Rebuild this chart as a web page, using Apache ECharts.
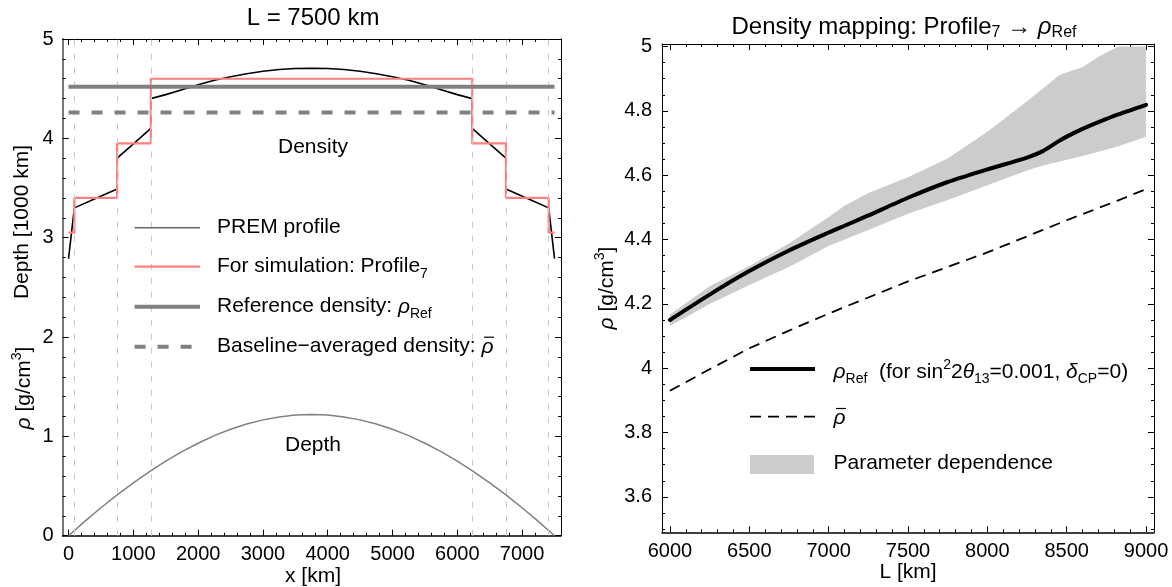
<!DOCTYPE html>
<html><head><meta charset="utf-8">
<script src="https://cdn.jsdelivr.net/npm/echarts@6/dist/echarts.min.js"></script>
<style>html,body{margin:0;padding:0;background:#fff}#c{width:1172px;height:587px}</style>
</head><body><div id="c"></div>
<script>
// ================= LEFT PANEL DATA (L = 7500 km) =================
const premX   = [0, 90, 400, 750, 750, 1010, 1270, 1270, 1500, 1750, 2000, 2250, 2500, 2750, 3000, 3250, 3500, 3750, 4000, 4250, 4500, 4750, 5000, 5250, 5500, 5750, 6000, 6230, 6230, 6490, 6750, 6750, 7100, 7410, 7500];
const premRho = [2.79, 3.30, 3.39, 3.49, 3.80, 3.95, 4.10, 4.40, 4.44, 4.49, 4.54, 4.585, 4.62, 4.65, 4.675, 4.693, 4.703, 4.706, 4.703, 4.693, 4.675, 4.65, 4.62, 4.585, 4.54, 4.49, 4.44, 4.40, 4.10, 3.95, 3.80, 3.49, 3.39, 3.30, 2.79];
const profileEdges = [0, 90, 750, 1270, 6230, 6750, 7410, 7500];
const profileRho   = [3.05, 3.40, 3.95, 4.60, 3.95, 3.40, 3.05];
const layerBounds  = [90, 750, 1270, 6230, 6750, 7410];
const depthX  = [0, 250, 500, 750, 1000, 1250, 1500, 1750, 2000, 2250, 2500, 2750, 3000, 3250, 3500, 3750, 4000, 4250, 4500, 4750, 5000, 5250, 5500, 5750, 6000, 6250, 6500, 6750, 7000, 7250, 7500];
const depthKm = [0, 0.144, 0.281, 0.411, 0.532, 0.646, 0.751, 0.846, 0.931, 1.007, 1.071, 1.124, 1.166, 1.196, 1.215, 1.221, 1.215, 1.196, 1.166, 1.124, 1.071, 1.007, 0.931, 0.846, 0.751, 0.646, 0.532, 0.411, 0.281, 0.144, 0];
const rhoRefLeft = 4.52;
const rhoBarLeft = 4.26;
const leftXTicks = [0, 1000, 2000, 3000, 4000, 5000, 6000, 7000];
const leftYTicks = [0, 1, 2, 3, 4, 5];

// ================= RIGHT PANEL DATA (density mapping) =================
const Lkm       = [6000, 6250, 6500, 6750, 7000, 7100, 7250, 7500, 7750, 8000, 8250, 8350, 8450, 8500, 8600, 8700, 8825, 9000];
const rhoRef    = [4.150, 4.229, 4.302, 4.366, 4.422, 4.443, 4.475, 4.530, 4.579, 4.618, 4.655, 4.675, 4.706, 4.720, 4.744, 4.765, 4.789, 4.819];
const rhoBar    = [3.930, 3.997, 4.062, 4.117, 4.170, 4.190, 4.220, 4.270, 4.315, 4.360, 4.410, 4.430, 4.450, 4.460, 4.479, 4.498, 4.522, 4.557];
const bandLow   = [4.131, 4.200, 4.259, 4.315, 4.380, 4.400, 4.430, 4.480, 4.523, 4.569, 4.615, 4.630, 4.642, 4.648, 4.660, 4.673, 4.690, 4.720];
const bandHigh  = [4.167, 4.255, 4.318, 4.388, 4.470, 4.505, 4.545, 4.594, 4.652, 4.735, 4.830, 4.870, 4.910, 4.920, 4.936, 4.968, 5.000, 5.000];
const rightXTicks = [6000, 6500, 7000, 7500, 8000, 8500, 9000];
const rightYTicks = [3.6, 3.8, 4, 4.2, 4.4, 4.6, 4.8, 5];

// ================= helpers =================
const FF = '"Liberation Sans", Arial, Helvetica, sans-serif';
const zip = (xs, ys) => xs.map((x, i) => [x, ys[i]]);
function minorTicks(from, to, step, majors) {
  const out = [];
  const n = Math.round((to - from) / step);
  for (let k = 0; k <= n; k++) {
    const v = Math.round((from + k * step) * 1000) / 1000;
    if (!majors.some(m => Math.abs(m - v) < 1e-9)) out.push(v);
  }
  return out;
}
function ax(grid, pos, min, max, ticks, len, o) {
  o = o || {};
  return {
    type: 'value', gridIndex: grid, position: pos, min: min, max: max,
    axisLine: { show: !!o.line, onZero: false, lineStyle: { color: o.lineColor || '#000', width: o.lineWidth || 1 } },
    axisTick: { show: true, inside: true, length: len, customValues: ticks, lineStyle: { color: '#000', width: 1 } },
    axisLabel: o.labels ? { show: true, customValues: ticks, color: '#000', fontFamily: FF, fontSize: 20, margin: o.margin || 8,
      formatter: v => String(v) } : { show: false },
    splitLine: { show: false }, minorTick: { show: false }, minorSplitLine: { show: false }
  };
}
function rich(size) {
  const s = Math.round(size * 0.68);
  return {
    n:   { font: size + 'px ' + FF, lineHeight: 28, fill: '#000' },
    i:   { font: 'italic ' + size + 'px ' + FF, lineHeight: 28, fill: '#000' },
    sub: { font: s + 'px ' + FF, lineHeight: 14, verticalAlign: 'bottom', fill: '#000' },
    sup: { font: s + 'px ' + FF, lineHeight: 14, verticalAlign: 'top', fill: '#000' }
  };
}
function txt(x, y, text, size, align, rot) {
  return { type: 'text', x: x, y: y, rotation: rot || 0, z: 100,
    style: { text: text, rich: rich(size), align: align || 'center', verticalAlign: 'middle', fill: '#000', font: size + 'px ' + FF } };
}
function seg(x1, y1, x2, y2, color, w, dash) {
  return { type: 'line', z: 100, shape: { x1: x1, y1: y1, x2: x2, y2: y2 },
    style: { stroke: color, lineWidth: w, lineDash: dash || null } };
}
const measureCtx = document.createElement('canvas').getContext('2d');
function textWidth(s, size) { measureCtx.font = size + 'px ' + FF; return measureCtx.measureText(s).width; }
// italic rho with an overline (rho-bar)
function rhoBarGlyph(x, y, size) {
  return [
    txt(x, y, '{i|\u03C1}', size, 'left'),
    seg(x + 2.5, y - 9.5, x + 12.5, y - 9.5, '#000', 1.2)
  ];
}

// step profile from edges
const profileData = [];
profileRho.forEach((r, i) => { profileData.push([profileEdges[i], r]); profileData.push([profileEdges[i + 1], r]); });

const GL = { left: 62.7, top: 39, width: 498.3, height: 496.7 };
const GR = { left: 662, top: 44, width: 492, height: 488.3 };
const LX = [-90, 7600], LY = [0, 5], RX = [5950, 9050], RY = [3.49, 5.008];

const lxMinor = minorTicks(0, 7600, 200, leftXTicks);
const lyMinor = minorTicks(0, 5, 0.2, leftYTicks);
const rxMinor = minorTicks(6000, 9000, 100, rightXTicks);
const ryMinor = minorTicks(3.5, 5.0, 0.05, rightYTicks);

const baseLabel = 'Baseline\u2212averaged density: ';
const baseW = textWidth(baseLabel, 21);

const option = {
  animation: false,
  backgroundColor: '#fff',
  grid: [
    Object.assign({}, GL), Object.assign({}, GL),
    Object.assign({}, GR), Object.assign({}, GR)
  ],
  xAxis: [
    ax(0, 'bottom', LX[0], LX[1], leftXTicks, 6, { line: true, lineWidth: 1.5, labels: true, margin: 9 }),
    ax(0, 'top', LX[0], LX[1], leftXTicks, 6, { line: true }),
    ax(1, 'bottom', LX[0], LX[1], lxMinor, 3, {}),
    ax(1, 'top', LX[0], LX[1], lxMinor, 3, {}),
    ax(2, 'bottom', RX[0], RX[1], rightXTicks, 6, { line: true, lineWidth: 1.5, labels: true, margin: 9 }),
    ax(2, 'top', RX[0], RX[1], rightXTicks, 6, { line: true }),
    ax(3, 'bottom', RX[0], RX[1], rxMinor, 3, {}),
    ax(3, 'top', RX[0], RX[1], rxMinor, 3, {})
  ],
  yAxis: [
    ax(0, 'left', LY[0], LY[1], leftYTicks, 6, { line: true, lineColor: '#777', lineWidth: 2, labels: true, margin: 9 }),
    ax(0, 'right', LY[0], LY[1], leftYTicks, 6, { line: true }),
    ax(1, 'left', LY[0], LY[1], lyMinor, 3, {}),
    ax(1, 'right', LY[0], LY[1], lyMinor, 3, {}),
    ax(2, 'left', RY[0], RY[1], rightYTicks, 6, { line: true, labels: true, margin: 10 }),
    ax(2, 'right', RY[0], RY[1], rightYTicks, 6, { line: true }),
    ax(3, 'left', RY[0], RY[1], ryMinor, 3, {}),
    ax(3, 'right', RY[0], RY[1], ryMinor, 3, {})
  ],
  series: [
    // ---- left panel ----
    { type: 'line', xAxisIndex: 0, yAxisIndex: 0, data: zip(depthX, depthKm), showSymbol: false, symbol: 'none', z: 2,
      lineStyle: { color: '#808080', width: 1.5 },
      markLine: { silent: true, symbol: ['none', 'none'], label: { show: false },
        lineStyle: { color: '#c8c8c8', type: [6, 8], width: 1 },
        data: layerBounds.map(v => ({ xAxis: v })) } },
    { type: 'line', xAxisIndex: 0, yAxisIndex: 0, data: zip(premX, premRho), symbol: 'none', z: 3,
      lineStyle: { color: '#000', width: 1.6 } },
    { type: 'line', xAxisIndex: 0, yAxisIndex: 0, data: profileData, symbol: 'none', z: 4,
      lineStyle: { color: '#ff7f7f', width: 2.2 } },
    { type: 'line', xAxisIndex: 0, yAxisIndex: 0, data: [[0, rhoRefLeft], [7500, rhoRefLeft]], symbol: 'none', z: 5,
      lineStyle: { color: '#808080', width: 4 } },
    { type: 'line', xAxisIndex: 0, yAxisIndex: 0, data: [[0, rhoBarLeft], [7500, rhoBarLeft]], symbol: 'none', z: 5,
      lineStyle: { color: '#808080', width: 4, type: [11, 12] } },
    // ---- right panel ----
    { type: 'custom', xAxisIndex: 4, yAxisIndex: 4, z: 2, clip: true,
      data: Lkm.map((x, i) => [x, bandLow[i], bandHigh[i]]),
      encode: { x: 0, y: [1, 2] },
      renderItem: function (params, api) {
        if (params.dataIndex !== 0) return null;
        const pts = [];
        for (let i = 0; i < Lkm.length; i++) pts.push(api.coord([Lkm[i], bandHigh[i]]));
        for (let i = Lkm.length - 1; i >= 0; i--) pts.push(api.coord([Lkm[i], bandLow[i]]));
        return { type: 'polygon', shape: { points: pts }, style: { fill: '#cccccc', stroke: null } };
      } },
    { type: 'line', xAxisIndex: 4, yAxisIndex: 4, data: zip(Lkm, rhoBar), symbol: 'none', z: 3,
      lineStyle: { color: '#000', width: 1.8, type: [11, 7] } },
    { type: 'line', xAxisIndex: 4, yAxisIndex: 4, data: zip(Lkm, rhoRef), symbol: 'none', z: 4, smooth: 0.25,
      lineStyle: { color: '#000', width: 4, cap: 'round' } }
  ],
  graphic: [
    // titles
    txt(313, 18, '{n|L = 7500 km}', 24),
    txt(904, 27, '{n|Density mapping: Profile}{sub|7}{n| \u2192 }{i|\u03C1}{sub|Ref}', 24),
    // axis names
    txt(313, 576, '{n|x [km]}', 21),
    txt(908, 572, '{n|L [km]}', 21),
    txt(22, 222, '{n|Depth [1000 km]}', 21, 'center', Math.PI / 2),
    txt(24, 388, '{i|\u03C1}{n| [g/cm}{sup|3}{n|]}', 21, 'center', Math.PI / 2),
    txt(607, 288, '{i|\u03C1}{n| [g/cm}{sup|3}{n|]}', 21, 'center', Math.PI / 2),
    // in-plot labels
    txt(313, 147, '{n|Density}', 21),
    txt(313, 445, '{n|Depth}', 21),
    // left legend
    seg(134.6, 227.7, 200, 227.7, '#666', 1.5),
    seg(134.6, 266.7, 200, 266.7, '#ff7f7f', 2.2),
    seg(134.6, 306.7, 200, 306.7, '#808080', 4),
    seg(134.6, 346.7, 200, 346.7, '#808080', 4, [11, 12]),
    txt(217, 227.7, '{n|PREM profile}', 21, 'left'),
    txt(217, 266.7, '{n|For simulation: Profile}{sub|7}', 21, 'left'),
    txt(217, 306.7, '{n|Reference density: }{i|\u03C1}{sub|Ref}', 21, 'left'),
    txt(217, 346.7, '{n|' + baseLabel + '}', 21, 'left'),
    ...rhoBarGlyph(217 + baseW, 346.7, 21),
    // right legend
    seg(750, 369, 815, 369, '#000', 4),
    seg(750, 416.7, 815, 416.7, '#000', 1.8, [11, 7]),
    { type: 'rect', z: 100, shape: { x: 750, y: 455, width: 64, height: 19 }, style: { fill: '#cccccc' } },
    txt(833.5, 372, '{i|\u03C1}{sub|Ref}{n|  (for sin}{sup|2}{n|2}{i|\u03B8}{sub|13}{n|=0.001, }{i|\u03B4}{sub|CP}{n|=0)}', 21, 'left'),
    ...rhoBarGlyph(833.5, 418, 21),
    txt(833.5, 463, '{n|Parameter dependence}', 21, 'left')
  ]
};
const chart = echarts.init(document.getElementById('c'), null, { renderer: 'canvas' });
chart.setOption(option);
</script>
</body></html>
